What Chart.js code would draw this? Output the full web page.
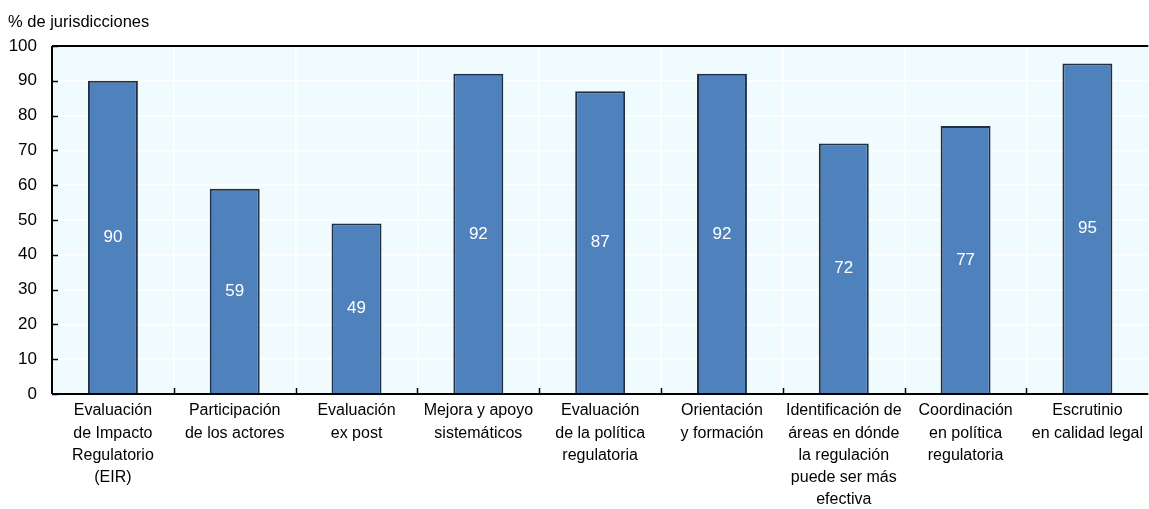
<!DOCTYPE html>
<html>
<head>
<meta charset="utf-8">
<script src="https://cdn.jsdelivr.net/npm/chart.js"></script>
<style>
  html,body{margin:0;padding:0;background:#fff}
  #wrap{width:1149px;height:509px;position:relative}
</style>
</head>
<body>
<div id="wrap"><canvas id="c" width="1149" height="509"></canvas></div>
<script>
/* data */
const CATEGORIES = [
  ['Evaluación','de Impacto','Regulatorio','(EIR)'],
  ['Participación','de los actores'],
  ['Evaluación','ex post'],
  ['Mejora y apoyo','sistemáticos'],
  ['Evaluación','de la política','regulatoria'],
  ['Orientación','y formación'],
  ['Identificación de','áreas en dónde','la regulación','puede ser más','efectiva'],
  ['Coordinación','en política','regulatoria'],
  ['Escrutinio','en calidad legal']
];
const VALUES   = [90, 59, 49, 92, 87, 92, 72, 77, 95];
const Y_TICKS  = [0,10,20,30,40,50,60,70,80,90,100];
const Y_TITLE  = '% de jurisdicciones';

const FONT = '"Liberation Sans", Arial, sans-serif';

/* ---------- plot background + frame + inward ticks */
const frame = {
  id:'frame',
  beforeDraw(ch){
    const {ctx, chartArea:a} = ch;
    ctx.save();
    ctx.fillStyle = '#f0fbfd';
    ctx.fillRect(a.left, a.top, a.right-a.left, a.bottom-a.top);
    ctx.restore();
  },
  afterDatasetsDraw(ch){
    const {ctx, chartArea:a, scales:{x,y}} = ch;
    ctx.save();
    ctx.strokeStyle = '#000';
    ctx.lineWidth = 2;
    ctx.beginPath();
    ctx.moveTo(a.left, a.top);   ctx.lineTo(a.right, a.top);        // top line
    ctx.moveTo(a.left, a.top);   ctx.lineTo(a.left, a.bottom);      // y axis
    ctx.moveTo(a.left, a.bottom);ctx.lineTo(a.right, a.bottom);     // x axis
    ctx.stroke();
    ctx.lineWidth = 1.5;
    ctx.beginPath();
    Y_TICKS.forEach(v=>{
      const py = Math.round(y.getPixelForValue(v))+0.5;
      ctx.moveTo(a.left, py); ctx.lineTo(a.left+6, py);
    });
    for (let i=1;i<CATEGORIES.length;i++){
      const px = Math.round((x.getPixelForValue(i-1)+x.getPixelForValue(i))/2)+0.5;
      ctx.moveTo(px, a.bottom); ctx.lineTo(px, a.bottom-6);
    }
    ctx.stroke();
    // value labels in the middle of each bar
    ctx.fillStyle = '#fff';
    ctx.font = '17px '+FONT;
    ctx.textAlign = 'center';
    ctx.textBaseline = 'middle';
    VALUES.forEach((v,i)=>{
      ctx.fillText(String(v), x.getPixelForValue(i), y.getPixelForValue(v/2));
    });
    // y title
    ctx.fillStyle = '#000';
    ctx.font = '16.5px '+FONT;
    ctx.textAlign = 'left';
    ctx.textBaseline = 'alphabetic';
    ctx.fillText(Y_TITLE, 8, 27);
    ctx.restore();
  }
};

new Chart(document.getElementById('c'), {
  type:'bar',
  data:{
    labels: CATEGORIES,
    datasets:[{
      data: VALUES,
      backgroundColor:'#4f81bd',
      borderColor:'#1f2f45',
      borderWidth:2,
      categoryPercentage:1,
      barPercentage:0.41
    }]
  },
  options:{
    responsive:false,
    animation:false,
    layout:{padding:{top:46, right:0, left:0, bottom:0}},
    plugins:{legend:{display:false}, tooltip:{enabled:false}},
    scales:{
      x:{
        offset:true,
        afterFit(s){ s.height = 115; },
        grid:{color:'#ffffff', lineWidth:1.5, drawTicks:false, offset:true},
        border:{display:false},
        ticks:{color:'#000', font:{family:FONT, size:16, lineHeight:1.38}, padding:6, maxRotation:0, autoSkip:false}
      },
      y:{
        min:0, max:100,
        afterBuildTicks(s){ s.ticks = Y_TICKS.map(v=>({value:v})); },
        afterFit(s){ s.width = 52; },
        grid:{color:'#ffffff', lineWidth:1.5, drawTicks:false},
        border:{display:false},
        ticks:{color:'#000', font:{family:FONT, size:17}, padding:15}
      }
    }
  },
  plugins:[frame]
});
</script>
</body>
</html>
